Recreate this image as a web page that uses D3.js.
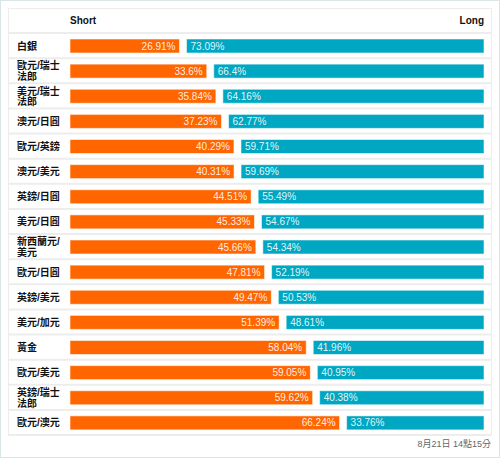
<!DOCTYPE html>
<html><head><meta charset="utf-8">
<script src="https://cdn.jsdelivr.net/npm/d3@7"></script>
<style>
html,body{margin:0;padding:0;background:#fff;}
svg{display:block;font-family:"Liberation Sans",Arial,"Noto Sans CJK TC",sans-serif;}
</style></head>
<body><svg id="c" width="500" height="458"></svg>
<script>
const categories = ["白銀","歐元/瑞士法郎","美元/瑞士法郎","澳元/日圓","歐元/英鎊","澳元/美元","英鎊/日圓","美元/日圓","新西蘭元/美元","歐元/日圓","英鎊/美元","美元/加元","黃金","歐元/美元","英鎊/瑞士法郎","歐元/澳元"];
const shortValues = [26.91,33.6,35.84,37.23,40.29,40.31,44.51,45.33,45.66,47.81,49.47,51.39,58.04,59.05,59.62,66.24];
const longValues = [73.09,66.4,64.16,62.77,59.71,59.69,55.49,54.67,54.34,52.19,50.53,48.61,41.96,40.95,40.38,33.76];
const seriesNames = ["Short","Long"];
const timestamp = "8月21日 14點15分";

const svg = d3.select("#c");
const W = 500, H = 458;
const orange = "#ff6600", teal = "#00a7c2";
const barX0 = 70, barX1 = 484, gap = 7;

// outer frame
svg.append("rect").attr("x",0.5).attr("y",0.5).attr("width",W-1).attr("height",H-1)
  .attr("fill","#fff").attr("stroke","#d9e6e8");

const tableLeft = 8, tableRight = 491, headTop = 8, rowsTop = 33, rowsBottom = 435;
const y = d3.scaleBand().domain(categories).range([rowsTop, rowsBottom]).paddingInner(0);
const x = d3.scaleLinear().domain([0,100]).range([0, barX1 - barX0 - gap]);

const data = categories.map((c,i)=>({cat:c, s:shortValues[i], l:longValues[i]}));

// table borders
const lineCol = "#ededed";
svg.append("rect").attr("x",tableLeft+0.5).attr("y",headTop+0.5)
  .attr("width",tableRight-tableLeft).attr("height",rowsBottom-headTop)
  .attr("fill","none").attr("stroke",lineCol);
// row separators
const seps = [rowsTop].concat(categories.map(c=>y(c)+y.bandwidth()));
svg.selectAll("line.sep").data(seps).enter().append("line")
  .attr("x1",tableLeft).attr("x2",tableRight+1)
  .attr("y1",d=>d).attr("y2",d=>d)
  .attr("stroke",lineCol).attr("stroke-width",2);

// header
svg.append("text").attr("x",barX0).attr("y",20).attr("dy","0.35em")
  .attr("font-size",10).attr("font-weight","bold").attr("fill","#111").text(seriesNames[0]);
svg.append("text").attr("x",barX1).attr("y",20).attr("dy","0.35em").attr("text-anchor","end")
  .attr("font-size",10).attr("font-weight","bold").attr("fill","#111").text(seriesNames[1]);

const rows = svg.selectAll("g.row").data(data).enter().append("g").attr("class","row")
  .attr("transform",d=>`translate(0,${y(d.cat)})`);
const bh = 14, by = 6;

// labels with wrapping
rows.each(function(d){
  const g = d3.select(this);
  const t = g.append("text").attr("x",17).attr("font-size",10).attr("font-weight","bold").attr("fill","#111");
  const chars = Array.from(d.cat);
  const lines = []; let cur = "";
  const tmp = t.append("tspan");
  for (const ch of chars) {
    tmp.text(cur+ch);
    if (tmp.node().getComputedTextLength() > 50 && cur) { lines.push(cur); cur = ch; }
    else cur += ch;
  }
  lines.push(cur);
  tmp.remove();
  const lh = 10.5;
  const cy = y.bandwidth()/2 + 0.5;
  const start = cy - (lines.length-1)*lh/2;
  lines.forEach((ln,i)=>{
    t.append("tspan").attr("x",17).attr("y",start+i*lh).attr("dy","0.35em").text(ln);
  });
});

// bars
rows.append("rect").attr("x",barX0).attr("y",by).attr("width",d=>x(d.s)).attr("height",bh)
  .attr("fill",orange).attr("stroke","rgba(255,255,255,0.55)").attr("stroke-width",1);
rows.append("rect").attr("x",d=>barX0+x(d.s)+gap).attr("y",by).attr("width",d=>x(d.l)).attr("height",bh)
  .attr("fill",teal).attr("stroke","rgba(255,255,255,0.55)").attr("stroke-width",1);

rows.append("text").attr("x",d=>barX0+x(d.s)-4).attr("y",by+bh/2).attr("dy","0.36em")
  .attr("text-anchor","end").attr("font-size",10).attr("fill","#fff").attr("fill-opacity",0.9)
  .text(d=>d.s+"%");
rows.append("text").attr("x",d=>barX0+x(d.s)+gap+4).attr("y",by+bh/2).attr("dy","0.36em")
  .attr("font-size",10).attr("fill","#fff").attr("fill-opacity",0.9)
  .text(d=>d.l+"%");

svg.append("text").attr("x",491).attr("y",444).attr("dy","0.35em").attr("text-anchor","end")
  .attr("font-size",9).attr("fill","#666").text(timestamp);
</script></body></html>
